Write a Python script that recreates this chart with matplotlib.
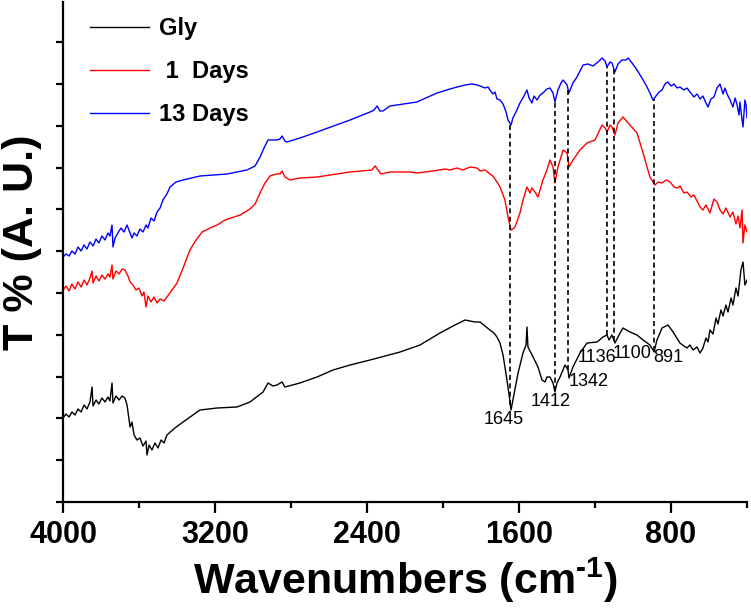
import numpy as np
import matplotlib
matplotlib.use('Agg')
import matplotlib.pyplot as plt

plt.rcParams['font.family'] = ['Liberation Sans', 'DejaVu Sans']
plt.rcParams['mathtext.fontset'] = 'custom'
plt.rcParams['mathtext.rm'] = 'Liberation Sans:bold'
plt.rcParams['mathtext.bf'] = 'Liberation Sans:bold'

# FTIR spectra, wavenumber (cm-1) and transmittance (arbitrary units, stacked)
gly_x = [4000, 3984, 3968, 3953, 3937, 3921, 3905, 3889, 3874, 3858, 3847, 3842, 3826, 3811,
         3795, 3779, 3763, 3753, 3742, 3737, 3721, 3705, 3689, 3674, 3663, 3647, 3637, 3626,
         3611, 3595, 3579, 3563, 3558, 3547, 3532, 3516, 3500, 3484, 3468, 3453, 3411, 3368,
         3279, 3189, 3084, 3016, 2947, 2921, 2895, 2874, 2847, 2832, 2753, 2663, 2579, 2489,
         2384, 2226, 2121, 2016, 1937, 1884, 1832, 1805, 1779, 1753, 1732, 1716, 1700, 1684,
         1674, 1658, 1647, 1642, 1632, 1605, 1579, 1563, 1558, 1553, 1526, 1500, 1479, 1463,
         1453, 1437, 1421, 1411, 1400, 1384, 1358, 1342, 1337, 1316, 1279, 1242, 1189, 1158,
         1137, 1126, 1111, 1095, 1068, 1053, 1016, 979, 947, 911, 889, 874, 847, 816, 789, 753,
         732, 716, 700, 684, 663, 647, 632, 616, 605, 595, 579, 563, 553, 537, 526, 511, 500,
         484, 474, 458, 447, 432, 421, 411, 400]
gly_y = [16.8, 17.6, 17.0, 18.0, 17.4, 18.6, 18.0, 19.4, 18.6, 20.0, 23.0, 19.2, 20.4, 19.6,
         20.8, 20.0, 21.0, 20.2, 23.8, 19.8, 21.2, 20.4, 21.2, 20.8, 19.4, 15.0, 16.0, 13.4,
         12.4, 12.8, 11.2, 12.2, 9.4, 11.4, 10.4, 11.8, 10.8, 12.4, 11.8, 13.4, 14.8, 16.0,
         18.4, 18.8, 19.0, 20.0, 22.0, 23.8, 23.2, 23.4, 24.0, 23.0, 23.8, 25.0, 26.4, 27.4,
         28.4, 30.0, 31.4, 33.8, 35.4, 36.4, 36.0, 36.0, 35.2, 34.4, 33.8, 33.0, 31.8, 29.4,
         27.0, 23.0, 20.0, 18.4, 20.4, 25.8, 29.8, 31.4, 35.0, 31.0, 29.0, 27.0, 24.4, 24.0,
         25.0, 25.0, 23.8, 22.0, 23.8, 25.0, 27.4, 26.4, 24.8, 27.0, 29.8, 31.8, 32.0, 33.0,
         33.4, 32.4, 33.4, 31.8, 33.8, 34.8, 34.0, 33.4, 32.4, 31.4, 30.0, 32.4, 34.8, 35.4, 34.0, 31.8,
         31.2, 30.8, 31.4, 30.4, 31.0, 29.8, 30.8, 32.8, 32.0, 34.4, 33.6, 36.8, 35.6, 38.4, 37.2, 39.4, 38.0,
         40.8, 39.4, 42.8, 41.2, 46.4, 48.0, 43.4, 44.4]

day1_x = [4000, 3984, 3968, 3953, 3937, 3921, 3905, 3889, 3874, 3858, 3847, 3842, 3826, 3811,
          3795, 3779, 3763, 3753, 3742, 3737, 3721, 3705, 3689, 3674, 3658, 3647, 3632, 3616,
          3600, 3584, 3574, 3563, 3553, 3537, 3521, 3505, 3489, 3468, 3453, 3426, 3400, 3368,
          3332, 3300, 3268, 3226, 3189, 3147, 3068, 3016, 2989, 2963, 2937, 2911, 2879, 2858,
          2847, 2832, 2805, 2753, 2663, 2489, 2374, 2358, 2342, 2326, 2279, 2174, 2137, 2053,
          1989, 1963, 1926, 1895, 1858, 1821, 1805, 1779, 1753, 1737, 1716, 1700, 1684, 1674,
          1658, 1642, 1632, 1621, 1595, 1579, 1558, 1542, 1532, 1516, 1500, 1489, 1474, 1453,
          1437, 1421, 1411, 1395, 1368, 1347, 1337, 1316, 1279, 1242, 1200, 1163, 1147, 1137,
          1121, 1111, 1095, 1079, 1053, 1016, 979, 947, 911, 884, 868, 847, 826, 805, 784, 768,
          753, 732, 716, 695, 679, 663, 647, 632, 616, 595, 574, 558, 542, 526, 511, 489, 474,
          458, 447, 437, 426, 421, 411, 400]
day1_y = [42.4, 43.2, 42.2, 43.6, 42.6, 44.0, 43.0, 44.4, 43.4, 44.8, 46.2, 43.8, 45.2, 44.2,
          45.4, 44.6, 45.6, 45.0, 47.4, 44.6, 46.2, 45.6, 46.6, 46.4, 45.2, 44.0, 43.4, 42.4,
          42.8, 41.2, 42.0, 39.0, 41.2, 40.0, 41.0, 39.8, 40.6, 40.2, 41.0, 42.4, 43.8, 46.8,
          50.4, 52.4, 54.0, 54.8, 55.4, 56.4, 57.4, 58.6, 59.6, 61.8, 63.8, 65.2, 65.6, 65.6,
          66.2, 65.0, 64.4, 64.8, 65.0, 66.0, 66.4, 67.2, 66.4, 65.6, 66.0, 66.0, 65.8, 66.2,
          66.6, 66.4, 66.8, 66.4, 67.0, 66.8, 66.2, 66.4, 65.6, 65.2, 64.0, 63.0, 61.4, 60.4,
          57.0, 54.4, 54.6, 55.0, 57.8, 60.4, 63.0, 61.8, 62.8, 62.0, 61.0, 62.4, 64.4, 66.4,
          68.4, 67.0, 63.8, 67.0, 70.4, 69.8, 67.0, 68.4, 70.4, 71.8, 72.4, 75.4, 74.8, 74.0,
          75.4, 75.0, 73.4, 75.8, 77.0, 75.4, 73.8, 69.8, 65.0, 63.4, 64.0, 63.8, 64.4, 64.0, 63.0, 62.8,
          63.2, 61.8, 62.0, 61.0, 61.4, 60.2, 59.0, 58.4, 59.4, 57.8, 60.6, 60.0, 58.4, 57.6, 58.8, 57.0, 58.0,
          55.6, 57.2, 54.8, 58.4, 51.8, 55.4, 54.0]

day13_x = [4000, 3984, 3968, 3953, 3937, 3921, 3905, 3889, 3874, 3858, 3842, 3826, 3811, 3795,
           3779, 3763, 3753, 3742, 3737, 3726, 3711, 3695, 3679, 3663, 3653, 3637, 3626, 3611,
           3595, 3579, 3563, 3553, 3537, 3521, 3505, 3489, 3474, 3453, 3437, 3405, 3368, 3279,
           3137, 3032, 2989, 2963, 2942, 2921, 2874, 2858, 2847, 2832, 2821, 2753, 2663, 2489,
           2384, 2363, 2347, 2332, 2316, 2279, 2137, 2032, 1963, 1926, 1884, 1847, 1821, 1805,
           1779, 1763, 1753, 1737, 1726, 1716, 1700, 1684, 1668, 1658, 1642, 1632, 1611, 1595,
           1574, 1558, 1547, 1532, 1521, 1505, 1489, 1474, 1453, 1437, 1421, 1411, 1395, 1379,
           1368, 1347, 1337, 1316, 1295, 1263, 1237, 1211, 1184, 1163, 1147, 1137, 1121, 1111,
           1095, 1079, 1058, 1037, 1026, 1005, 979, 953, 926, 911, 895, 879, 863, 847, 832, 816,
           800, 784, 768, 753, 732, 716, 700, 679, 663, 647, 632, 616, 605, 590, 574, 558, 542,
           526, 516, 505, 489, 474, 463, 453, 442, 437, 426, 421, 411, 405, 400]
day13_y = [49.0, 49.6, 49.2, 50.2, 49.6, 51.0, 50.2, 51.4, 50.6, 52.0, 51.2, 52.6, 51.8, 53.2,
           52.4, 53.8, 53.2, 55.4, 51.0, 52.8, 53.8, 54.8, 54.0, 55.4, 54.4, 52.8, 53.8, 53.2,
           54.6, 54.0, 55.4, 54.8, 56.8, 56.2, 58.0, 58.8, 60.4, 61.6, 63.0, 64.0, 64.4, 65.2,
           65.6, 66.4, 67.2, 69.0, 70.8, 72.4, 72.4, 72.6, 73.2, 72.2, 72.0, 72.8, 74.0, 76.4,
           78.0, 78.4, 79.2, 78.2, 78.2, 79.2, 80.0, 81.8, 82.6, 83.0, 83.4, 83.6, 83.4, 83.2,
           82.8, 83.0, 82.4, 81.6, 82.0, 80.6, 80.4, 79.6, 78.0, 76.4, 75.4, 76.8, 78.4, 79.8,
           81.2, 82.4, 80.8, 79.8, 81.2, 80.4, 81.4, 81.8, 82.6, 82.8, 81.8, 80.0, 82.4, 83.8,
           84.4, 83.4, 81.8, 83.8, 85.0, 87.4, 87.6, 87.2, 88.0, 88.8, 88.2, 87.0, 88.0, 87.8,
           86.0, 87.6, 88.4, 88.4, 88.8, 87.8, 86.4, 84.8, 83.0, 81.8, 80.4, 81.2, 82.0, 82.4, 83.6, 84.0,
           83.2, 83.6, 82.8, 83.0, 82.4, 82.8, 82.0, 81.0, 81.6, 80.6, 81.2, 79.8, 79.0, 80.6, 81.0, 82.8, 83.6,
           81.6, 82.8, 81.6, 80.4, 79.0, 80.8, 79.6, 77.4, 80.0, 76.4, 75.0, 80.4, 79.4, 76.8]

peaks = [1645, 1412, 1342, 1136, 1100, 891]
peak_label_x = [1679, 1432, 1232, 1189, 1005, 816]
peak_label_y = [16.4, 20.2, 24.2, 29.0, 29.8, 28.8]

fig = plt.figure(figsize=(7.51, 6.14), dpi=100)
ax = fig.add_axes([63/751, 112/614, 684/751, 500/614])

ax.plot(gly_x, gly_y, color='black', lw=1.0, label='Gly')
ax.plot(day1_x, day1_y, color='#ff0000', lw=1.0, label=' 1  Days')
ax.plot(day13_x, day13_y, color='#0000ff', lw=1.0, label='13 Days')

# dashed guides from the 13 Days trace down to the Gly trace
top = np.interp(peaks, day13_x[::-1], day13_y[::-1])
bottom = np.interp(peaks, gly_x[::-1], gly_y[::-1])
ax.vlines(peaks, bottom, top, colors='black', linestyles=(0, (3, 2)), lw=1.2)
for p, tx, ty in zip(peaks, peak_label_x, peak_label_y):
    ax.text(tx, ty, str(p), ha='center', va='center', fontsize=13)

ax.set_xlim(4000, 400)
ax.set_ylim(0, 100)
ax.set_xticks([4000, 3200, 2400, 1600, 800])
ax.set_xticks([3600, 2800, 2000, 1200, 400], minor=True)
ax.set_yticks(np.arange(12) * 8.36)
ax.set_yticklabels([])
for s in ['top', 'right']:
    ax.spines[s].set_visible(False)
for s in ['left', 'bottom']:
    ax.spines[s].set_linewidth(1.6)
ax.tick_params(axis='x', which='major', direction='out', length=8, width=1.6, pad=5,
               labelsize=22)
ax.tick_params(axis='x', which='minor', direction='out', length=4, width=1.6)
ax.tick_params(axis='y', direction='out', length=5, width=1.6)
for t in ax.get_xticklabels():
    t.set_fontweight('bold')

ax.set_xlabel(r'Wavenumbers (cm$^{\text{-1}}$)', fontsize=31, fontweight='bold')
ax.set_ylabel('T % (A. U.)', fontsize=31, fontweight='bold')
ax.yaxis.set_label_coords(-0.03, 0.52)

ax.legend(loc='upper left', bbox_to_anchor=(0.039, 0.97), frameon=False,
          prop={'weight': 'bold', 'size': 17}, handlelength=2.5, handletextpad=0.45,
          labelspacing=0.85, borderpad=0, borderaxespad=0)

fig.savefig('out.png', dpi=100)
